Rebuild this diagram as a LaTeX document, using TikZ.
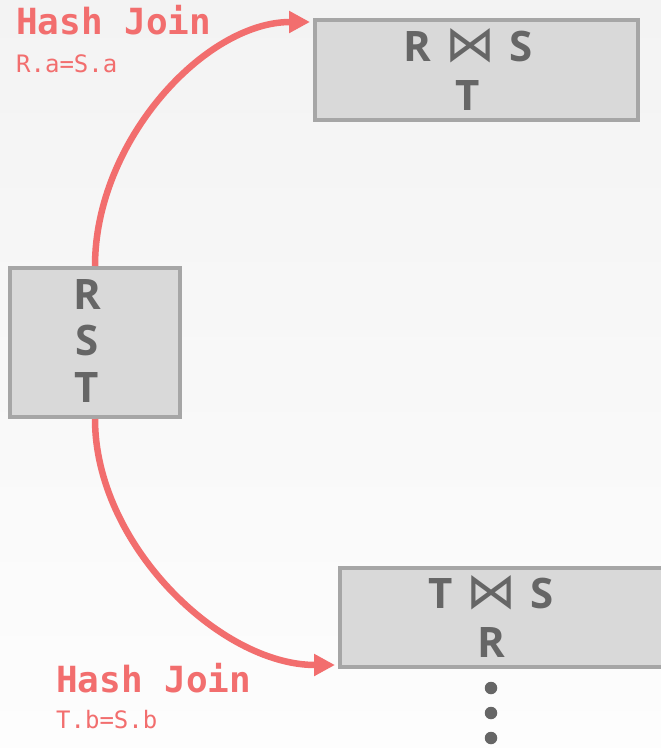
\documentclass[tikz,border=0pt]{standalone}
\usepackage{fontspec}
\setmainfont{Open Sans}
\newfontfamily\codefont{DejaVu Sans Mono}
\newfontfamily\symfont{DejaVu Sans}
\usetikzlibrary{arrows.meta}

\definecolor{joinred}{HTML}{F26E6E}
\definecolor{boxfill}{HTML}{D9D9D9}
\definecolor{boxline}{HTML}{A6A6A6}
\definecolor{reltext}{HTML}{666666}
\definecolor{bgtop}{HTML}{F3F3F3}
\definecolor{bgbottom}{HTML}{FDFDFD}

% join symbol: a light bowtie stretched to the letter height
\newcommand{\bowsym}{\hspace{14pt}\resizebox{50pt}{33pt}{\symfont\mdseries ⋈}\hspace{14pt}}

\begin{document}
\begin{tikzpicture}[x=1pt,y=-1pt,
  relbox/.style={draw=boxline, fill=boxfill, line width=4pt, rectangle, inner sep=0pt},
  rellabel/.style={text=reltext, font=\fontsize{42}{49}\selectfont\bfseries, align=center, anchor=base, inner sep=0pt},
  joinarrow/.style={draw=joinred, line width=6.5pt, -{Triangle[length=21pt,width=21pt]}},
  joinname/.style={text=joinred, font=\codefont\bfseries\fontsize{36}{40}\selectfont, anchor=base west, inner sep=0pt},
  joinpred/.style={text=joinred, font=\codefont\fontsize{24}{28}\selectfont, anchor=base west, inner sep=0pt},
  moredot/.style={circle, fill=reltext, minimum size=12.5pt, inner sep=0pt}]

  % page and background
  \useasboundingbox (0,0) rectangle (661,748);
  \shade[top color=bgtop, bottom color=bgbottom] (0,0) rectangle (661,748);
  \clip (0,0) rectangle (661,748);

  % relation boxes
  \node[relbox, minimum width=323pt, minimum height=100pt] (rst) at (476.5,70) {};
  \node[relbox, minimum width=170pt, minimum height=149pt] (base) at (95,342.5) {};
  \node[relbox, minimum width=400pt, minimum height=99pt, anchor=north west] (tsr) at (338,566) {};

  % box contents (anchored at the baseline of the last line)
  \node[rellabel] (rstlabel) at (468,110) {R\bowsym S\\T};
  \node[rellabel, font=\fontsize{42}{46.5}\selectfont\bfseries] (baselabel) at (87,402) {R\\S\\T};
  \node[rellabel] (tsrlabel) at (491,657) {T\bowsym S\\R};

  % continuation dots
  \node[moredot] (dot1) at (491,688) {};
  \node[moredot] (dot2) at (491,713) {};
  \node[moredot] (dot3) at (491,738) {};

  % join arrows
  \coordinate (rstin) at ([xshift=-3pt,yshift=-4pt]rst.north west);
  \coordinate (tsrin) at ([xshift=-3pt,yshift=4pt]tsr.south west);
  \draw[joinarrow] (base.north) .. controls +(0,-125) and +(-105,0) .. (rstin);
  \draw[joinarrow] (base.south) .. controls +(0,125) and +(-115,0) .. (tsrin);

  % join labels
  \node[joinname] (hj1) at (16,34) {Hash Join};
  \node[joinpred] (pred1) at (16,72) {R.a=S.a};
  \node[joinname] (hj2) at (56,692) {Hash Join};
  \node[joinpred] (pred2) at (56,728) {T.b=S.b};
\end{tikzpicture}
\end{document}
